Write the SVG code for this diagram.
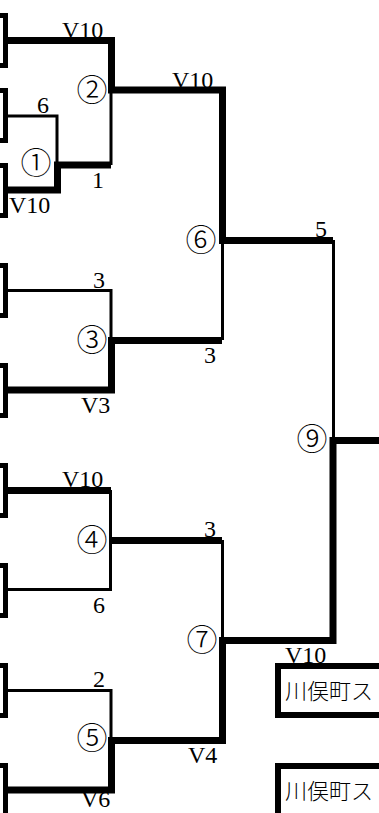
<svg xmlns="http://www.w3.org/2000/svg" width="379" height="813" viewBox="0 0 379 813">
<style>
.box{fill:#fff;stroke:#000;stroke-width:5}
.rbox{fill:#fff;stroke:#000;stroke-width:6}
.thin{fill:none;stroke:#000;stroke-width:3;stroke-linejoin:miter}
.thick{fill:none;stroke:#000;stroke-width:7;stroke-linejoin:miter}
.lbl{font-family:"Liberation Serif","DejaVu Serif",serif;font-size:24px;fill:#000}
.cir{font-family:"Noto Sans CJK JP","DejaVu Sans",sans-serif;font-size:31px;font-weight:300;fill:#000;text-anchor:middle}
.name{font-family:"Noto Sans CJK JP",sans-serif;font-size:22px;font-weight:300;fill:#000}
</style>
<rect width="379" height="813" fill="#fff"/>
<g id="teams">
<g id="team1"><rect class="box" x="-100" y="15.5" width="105.5" height="50"/></g>
<g id="team2"><rect class="box" x="-100" y="90.5" width="105.5" height="50"/></g>
<g id="team3"><rect class="box" x="-100" y="165.5" width="105.5" height="50"/></g>
<g id="team4"><rect class="box" x="-100" y="265.5" width="105.5" height="50"/></g>
<g id="team5"><rect class="box" x="-100" y="365.5" width="105.5" height="50"/></g>
<g id="team6"><rect class="box" x="-100" y="465.5" width="105.5" height="50"/></g>
<g id="team7"><rect class="box" x="-100" y="565.5" width="105.5" height="50"/></g>
<g id="team8"><rect class="box" x="-100" y="665.5" width="105.5" height="50"/></g>
<g id="team9"><rect class="box" x="-100" y="765.5" width="105.5" height="50"/></g>
<g id="resultA"><rect class="rbox" x="278" y="666" width="200" height="49"/><text class="name" x="285" y="699">川俣町ス</text></g>
<g id="resultB"><rect class="rbox" x="278" y="766" width="200" height="100"/><text class="name" x="285" y="799">川俣町ス</text></g>
</g>
<g id="connectors">
<path class="thin" d="M8,116 H57 V165"/>
<path class="thick" d="M8,190 H57.5 V165 H111"/>
<path class="thin" d="M111,90 V165"/>
<path class="thick" d="M8,40.5 H111.5 V90 H222.5 V240.5 H333"/>
<path class="thin" d="M8,290.5 H111 V340"/>
<path class="thick" d="M8,390 H111.5 V340.5 H222"/>
<path class="thin" d="M222.5,340 V240"/>
<path class="thick" d="M8,490.5 H111"/>
<path class="thin" d="M110.5,490 V589.5 H8"/>
<path class="thick" d="M111,540.5 H222"/>
<path class="thin" d="M222.5,540 V640"/>
<path class="thin" d="M8,690.5 H111 V740"/>
<path class="thick" d="M8,790 H111.5 V740.5 H222.5 V640.5 H333 V440.5 H379"/>
<path class="thin" d="M333.5,240 V440"/>
</g>
<g id="labels">
<g id="m1"><text class="cir" x="36" y="174">①</text><text class="lbl" x="37" y="113">6</text><text class="lbl" x="9" y="213">V10</text></g>
<g id="m2"><text class="cir" x="92" y="101">②</text><text class="lbl" x="62" y="38">V10</text><text class="lbl" x="92" y="188">1</text></g>
<g id="m3"><text class="cir" x="92" y="351">③</text><text class="lbl" x="93" y="288">3</text><text class="lbl" x="81" y="413">V3</text></g>
<g id="m4"><text class="cir" x="92" y="551">④</text><text class="lbl" x="62" y="487">V10</text><text class="lbl" x="93" y="613">6</text></g>
<g id="m5"><text class="cir" x="92" y="749">⑤</text><text class="lbl" x="93" y="687">2</text><text class="lbl" x="81" y="807">V6</text></g>
<g id="m6"><text class="cir" x="201" y="251">⑥</text><text class="lbl" x="172" y="88">V10</text><text class="lbl" x="315" y="237">5</text><text class="lbl" x="204" y="363">3</text></g>
<g id="m7"><text class="cir" x="202" y="651">⑦</text><text class="lbl" x="204" y="537">3</text><text class="lbl" x="188" y="763">V4</text></g>
<g id="m9"><text class="cir" x="312" y="450">⑨</text><text class="lbl" x="285" y="663">V10</text></g>
</g>
</svg>
